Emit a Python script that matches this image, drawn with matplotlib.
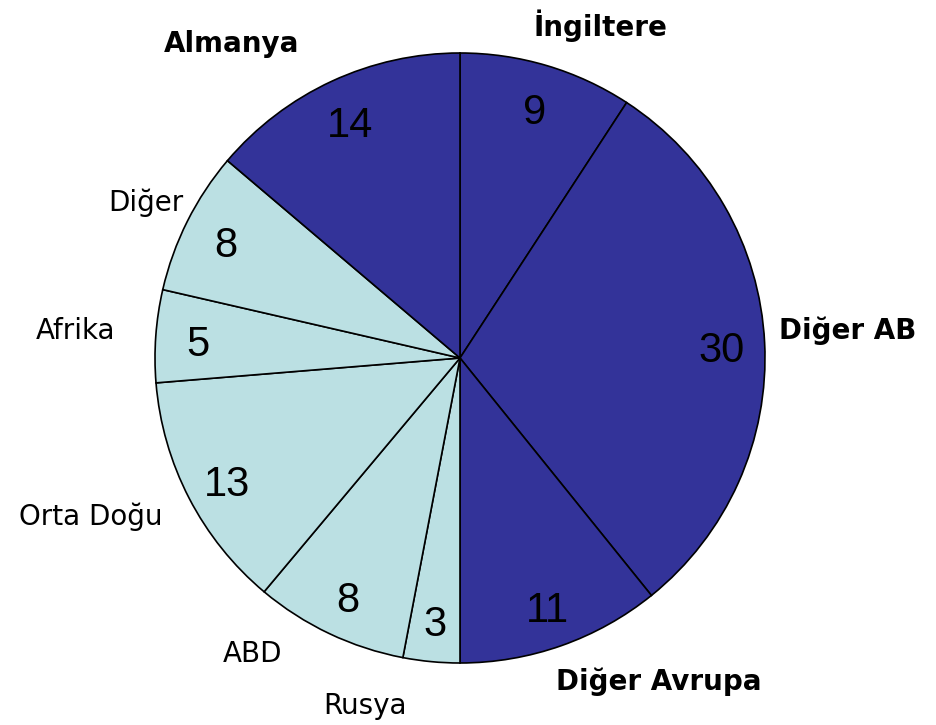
import numpy as np
import matplotlib.pyplot as plt

labels = ['İngiltere', 'Diğer AB', 'Diğer Avrupa', 'Rusya', 'ABD',
          'Orta Doğu', 'Afrika', 'Diğer', 'Almanya']
# shares (%); shown rounded on the slices
values = [9.2, 30.0, 10.8, 3.0, 8.1, 12.6, 4.9, 7.6, 13.8]
shown = [9, 30, 11, 3, 8, 13, 5, 8, 14]
europe = [True, True, True, False, False, False, False, False, True]

# label centres, in units of the pie radius
label_xy = [(0.46, 1.09), (1.27, 0.09), (0.65, -1.06), (-0.31, -1.14),
            (-0.68, -0.97), (-1.21, -0.52), (-1.26, 0.09), (-1.03, 0.51),
            (-0.75, 1.03)]

dark = '#333399'
light = '#bbe0e3'
colors = [dark if e else light for e in europe]

fig = plt.figure(figsize=(9.36, 7.25), dpi=100)
ax = fig.add_axes([0.0, 0.0, 1.0, 1.0])

wedges, texts = ax.pie(values, colors=colors, startangle=90, counterclock=False,
                       wedgeprops=dict(edgecolor='black', linewidth=1.2),
                       radius=1.0)

tot = float(sum(values))
ang = 90.0
for v, s in zip(values, shown):
    mid = np.deg2rad(ang - v / tot * 180.0)
    ax.text(0.86 * np.cos(mid), 0.86 * np.sin(mid) - 0.02, str(s),
            ha='center', va='center', fontsize=30, family='Liberation Sans')
    ang -= v / tot * 360.0

for lab, (x, y), e in zip(labels, label_xy, europe):
    ax.text(x, y, lab, ha='center', va='center', fontsize=20,
            fontweight='bold' if e else 'normal', family='DejaVu Sans')

# axes span 936 x 725 px; pie centre at (460, 358), radius 305 px
r = 305.0
ax.set_xlim(-460 / r, (936 - 460) / r)
ax.set_ylim(-(725 - 358) / r, 358 / r)
ax.set_aspect('equal')
ax.axis('off')

plt.savefig('out.png', dpi=100)
